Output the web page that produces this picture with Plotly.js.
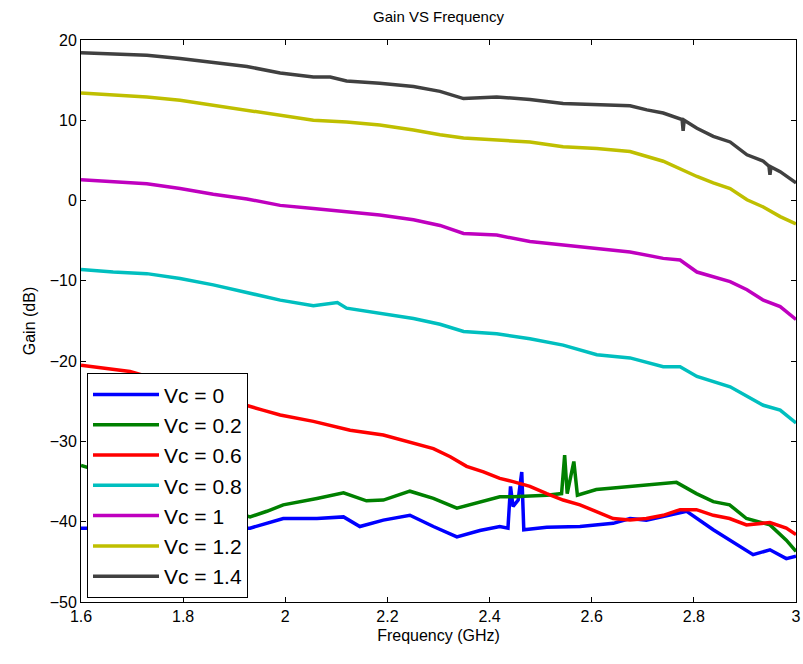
<!DOCTYPE html>
<html>
<head>
<meta charset="utf-8">
<script src="https://cdn.plot.ly/plotly-3.0.1.min.js"></script>
<style>html,body{margin:0;padding:0;background:#fff;}#chart{width:803px;height:664px;}</style>
</head>
<body>
<div id="chart"></div>
<script>
// Vc = 0
var f_vc0 = [1.6, 1.931, 1.996, 2.062, 2.114, 2.146, 2.192, 2.244, 2.29, 2.336, 2.381, 2.42, 2.436, 2.441, 2.446, 2.456, 2.463, 2.467, 2.512, 2.577, 2.642, 2.675, 2.707, 2.773, 2.786, 2.838, 2.87, 2.916, 2.949, 2.981, 3.0];
var g_vc0 = [-40.8, -40.8, -39.6, -39.6, -39.4, -40.6, -39.8, -39.2, -40.6, -41.9, -41.1, -40.6, -40.8, -35.6, -38.1, -37.3, -33.8, -41.0, -40.7, -40.6, -40.2, -39.6, -39.8, -38.9, -38.7, -41.0, -42.3, -44.1, -43.5, -44.6, -44.3];
// Vc = 0.2
var f_vc02 = [1.6, 1.931, 1.964, 1.996, 2.062, 2.114, 2.159, 2.192, 2.244, 2.29, 2.336, 2.381, 2.42, 2.446, 2.512, 2.541, 2.547, 2.552, 2.565, 2.572, 2.609, 2.642, 2.707, 2.766, 2.805, 2.838, 2.87, 2.903, 2.949, 2.981, 3.0];
var g_vc02 = [-33.0, -39.4, -38.7, -37.9, -37.1, -36.4, -37.4, -37.3, -36.2, -37.1, -38.3, -37.5, -36.9, -36.9, -36.7, -36.5, -31.7, -36.5, -32.5, -36.7, -36.0, -35.8, -35.4, -35.1, -36.5, -37.5, -37.9, -39.6, -40.4, -42.3, -43.7];
// Vc = 0.6
var f_vc06 = [1.6, 1.65, 1.696, 1.956, 1.99, 2.055, 2.127, 2.192, 2.225, 2.29, 2.323, 2.355, 2.388, 2.42, 2.446, 2.479, 2.512, 2.544, 2.577, 2.609, 2.642, 2.675, 2.707, 2.74, 2.773, 2.805, 2.838, 2.87, 2.903, 2.949, 2.981, 3.0];
var g_vc06 = [-20.5, -20.9, -21.3, -26.1, -26.7, -27.5, -28.6, -29.2, -29.8, -30.9, -31.9, -33.1, -33.8, -34.6, -35.0, -35.6, -36.5, -37.3, -37.9, -38.7, -39.6, -39.8, -39.6, -39.2, -38.5, -38.5, -39.2, -39.6, -40.4, -40.1, -40.8, -41.6];
// Vc = 0.8
var f_vc08 = [1.6, 1.663, 1.729, 1.794, 1.859, 1.925, 1.99, 2.055, 2.102, 2.12, 2.185, 2.251, 2.303, 2.349, 2.414, 2.479, 2.544, 2.61, 2.675, 2.74, 2.773, 2.806, 2.871, 2.904, 2.936, 2.969, 3.0];
var g_vc08 = [-8.6, -8.9, -9.1, -9.7, -10.5, -11.5, -12.4, -13.1, -12.7, -13.4, -14.0, -14.7, -15.4, -16.3, -16.6, -17.2, -18.0, -19.2, -19.6, -20.7, -20.7, -21.9, -23.2, -24.4, -25.5, -26.1, -27.7];
// Vc = 1
var f_vc1 = [1.6, 1.663, 1.729, 1.794, 1.859, 1.925, 1.99, 2.055, 2.12, 2.185, 2.251, 2.303, 2.349, 2.414, 2.479, 2.544, 2.61, 2.675, 2.74, 2.773, 2.806, 2.871, 2.904, 2.936, 2.969, 3.0];
var g_vc1 = [2.6, 2.4, 2.1, 1.5, 0.8, 0.2, -0.6, -1.0, -1.4, -1.8, -2.4, -3.1, -4.1, -4.3, -5.1, -5.5, -5.9, -6.4, -7.2, -7.4, -8.9, -10.1, -11.1, -12.4, -13.2, -14.8];
// Vc = 1.2
var f_vc12 = [1.6, 1.663, 1.729, 1.794, 1.859, 1.925, 1.99, 2.055, 2.12, 2.185, 2.251, 2.303, 2.349, 2.414, 2.479, 2.544, 2.61, 2.675, 2.708, 2.74, 2.806, 2.838, 2.871, 2.904, 2.936, 2.969, 3.0];
var g_vc12 = [13.4, 13.2, 12.9, 12.5, 11.9, 11.3, 10.7, 10.0, 9.8, 9.4, 8.8, 8.2, 7.8, 7.6, 7.3, 6.7, 6.5, 6.1, 5.5, 4.9, 3.0, 2.2, 1.5, 0.1, -0.8, -2.0, -2.9];
// Vc = 1.4
var f_vc14 = [1.6, 1.663, 1.729, 1.794, 1.859, 1.925, 1.99, 2.055, 2.088, 2.12, 2.185, 2.251, 2.303, 2.349, 2.414, 2.479, 2.544, 2.61, 2.675, 2.708, 2.74, 2.777, 2.779, 2.781, 2.806, 2.838, 2.871, 2.904, 2.936, 2.947, 2.949, 2.951, 2.969, 3.0];
var g_vc14 = [18.4, 18.3, 18.1, 17.7, 17.2, 16.7, 15.9, 15.4, 15.4, 14.9, 14.6, 14.2, 13.6, 12.7, 12.9, 12.6, 12.1, 12.0, 11.8, 11.3, 10.9, 10.1, 8.7, 10.0, 9.0, 8.0, 7.3, 5.7, 4.9, 4.3, 3.2, 4.2, 3.6, 2.2];

var names = ['Vc = 0', 'Vc = 0.2', 'Vc = 0.6', 'Vc = 0.8', 'Vc = 1', 'Vc = 1.2', 'Vc = 1.4'];
var xs = [f_vc0, f_vc02, f_vc06, f_vc08, f_vc1, f_vc12, f_vc14];
var ys = [g_vc0, g_vc02, g_vc06, g_vc08, g_vc1, g_vc12, g_vc14];
var colors = ['#0000ff', '#008000', '#ff0000', '#00bfbf', '#bf00bf', '#bfbf00', '#404040'];

var traces = names.map(function (n, i) {
  return { x: xs[i], y: ys[i], name: n, type: 'scatter', mode: 'lines',
           line: { color: colors[i], width: 3.5 } };
});

var axisCommon = {
  showgrid: false, zeroline: false, showline: true, mirror: 'ticks',
  ticks: 'inside', ticklen: 5, tickcolor: '#000', linecolor: '#000', linewidth: 1,
  tickfont: { size: 16, color: '#000' }
};

var layout = {
  width: 803, height: 664,
  margin: { l: 81, r: 7, t: 40, b: 62 },
  paper_bgcolor: '#fff', plot_bgcolor: '#fff',
  font: { family: 'Liberation Sans, Arial, sans-serif', color: '#000' },
  title: { text: 'Gain VS Frequency', font: { size: 15, color: '#000' },
           x: 0.5, xref: 'paper', y: 0.975, yref: 'container', yanchor: 'middle' },
  xaxis: Object.assign({}, axisCommon, {
    range: [1.6, 3], tick0: 1.6, dtick: 0.2,
    title: { text: 'Frequency (GHz)', font: { size: 16 }, standoff: 5 }
  }),
  yaxis: Object.assign({}, axisCommon, {
    range: [-50, 20], tick0: -50, dtick: 10,
    title: { text: 'Gain (dB)', font: { size: 16 }, standoff: 10 }
  }),
  showlegend: true,
  legend: {
    x: 0.0084, y: 0.407, xanchor: 'left', yanchor: 'top',
    bgcolor: '#fff', bordercolor: '#000', borderwidth: 1,
    font: { size: 21, color: '#000' }, tracegroupgap: 0, traceorder: 'normal',
    itemwidth: 66
  }
};

Plotly.newPlot('chart', traces, layout, { displayModeBar: false, staticPlot: true });
</script>
</body>
</html>
